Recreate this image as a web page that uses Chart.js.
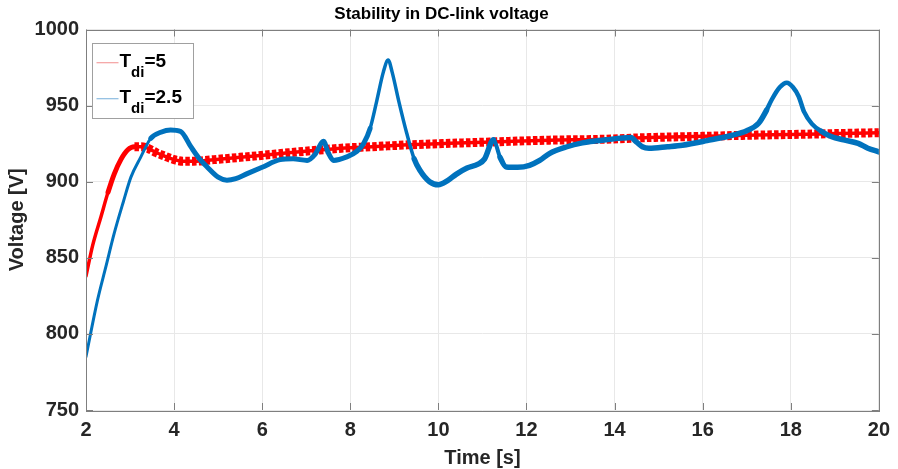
<!DOCTYPE html>
<html>
<head>
<meta charset="utf-8">
<title>Stability in DC-link voltage</title>
<script src="https://cdn.jsdelivr.net/npm/chart.js@4.4.0/dist/chart.umd.min.js"></script>
<style>
  html, body { margin: 0; padding: 0; background: #fff; overflow: hidden; }
  #chart { display: block; }
</style>
</head>
<body>
<canvas id="chart" width="898" height="469"></canvas>
<script>
// Time axis ticks and voltage ticks
const timeTicks = [2, 4, 6, 8, 10, 12, 14, 16, 18, 20];
const voltTicks = [750, 800, 850, 900, 950, 1000];

// T_di = 5 (red)
const tRed = [2.0, 2.15, 2.34, 2.5, 2.64, 2.8, 2.95, 3.1, 3.25, 3.4, 3.6, 3.77, 4.0, 4.2, 4.45,
  4.9, 5.5, 6.03, 6.6, 7.17, 7.8, 8.5, 9.3, 10.26, 11.4, 12.52, 13.65, 14.78, 16.0, 17.0, 18.0, 19.0, 20.0];
const vRed = [838, 858, 877, 893, 905, 915, 921, 923, 923, 922, 919, 917, 914.5, 913.5, 913.5,
  914.5, 916, 917.4, 919, 920.5, 922, 923, 924.2, 925.2, 926.3, 927.3, 927.8, 929, 929.8, 930.5, 931, 931.6, 932.2];

// T_di = 2.5 (blue)
const tBlue = [2.0, 2.26, 2.45, 2.64, 2.85, 3.02, 3.24, 3.47, 3.7, 3.92, 4.15, 4.38, 4.55, 4.75, 5.0,
  5.2, 5.4, 5.66, 6.0, 6.41, 6.7, 7.02, 7.2, 7.39, 7.5, 7.62, 7.92, 8.15, 8.3, 8.45,
  8.6, 8.75, 8.86, 8.95, 9.1, 9.28, 9.45, 9.58, 9.8, 10.0, 10.2, 10.41, 10.65, 10.9, 11.05,
  11.25, 11.4, 11.54, 11.8, 12.07, 12.3, 12.52, 12.9, 13.27, 13.8, 14.37, 14.5, 14.63, 14.78, 15.2,
  15.54, 16.1, 16.67, 17.0, 17.27, 17.45, 17.57, 17.75, 17.91, 18.05, 18.18, 18.3, 18.48, 18.7, 18.93,
  19.2, 19.53, 19.75, 20.0];
const vBlue = [785, 822, 844, 866, 887, 903, 916, 928.5, 932.5, 934, 933, 923, 916, 909.7, 903,
  901, 902, 905.3, 909.5, 914.5, 915, 914, 918, 926.5, 919, 914, 916.3, 920, 925, 935,
  953, 972, 980, 972, 953, 932, 915, 907.5, 900, 898, 900.5, 905, 909, 911.5, 915,
  927.5, 916, 909.7, 909.5, 910.8, 914, 918.5, 922.8, 925.5, 927.5, 929, 926, 923, 922, 923,
  924, 927, 930.5, 933.5, 938.4, 947, 954, 962, 965, 962, 956, 946, 938, 933, 929.5,
  927.5, 925.2, 922, 919.6];

const seriesNames = ['5', '2.5'];

function toPoints(xs, ys) {
  return xs.map((x, i) => ({ x: x, y: ys[i] }));
}

// ripple band width along the blue trace
function blueWidth(ctx) {
  const x = ctx.p0.parsed.x;
  if (x < 3.3) return 3;
  if (x < 8.35) return 5;
  if (x < 9.45) return 3.5;
  if (x < 11.1) return 5.5;
  if (x < 11.35) return 4;
  if (x < 17.3) return 5.5;
  if (x < 18.5) return 4.5;
  return 5.5;
}

function redWidth(ctx) {
  const x = ctx.p0.parsed.x;
  if (x < 2.5) return 3.5;
  if (x < 3.0) return 5;
  return 3.5;
}

function redBandWidth(ctx) {
  const x = ctx.p0.parsed.x;
  if (x < 3.0) return 0;
  return 9;
}

const axisColor = '#7f7f7f';
const textColor = '#262626';

// MATLAB style box with inward ticks on all four sides
const boxPlugin = {
  id: 'box',
  afterDatasetsDraw(chart) {
    const { ctx, chartArea: a, scales } = chart;
    ctx.save();
    ctx.strokeStyle = axisColor;
    ctx.lineWidth = 1;
    ctx.beginPath();
    timeTicks.forEach(t => {
      const px = Math.round(scales.x.getPixelForValue(t)) + 0.5;
      ctx.moveTo(px, a.bottom); ctx.lineTo(px, a.bottom - 7);
      ctx.moveTo(px, a.top); ctx.lineTo(px, a.top + 7);
    });
    voltTicks.forEach(v => {
      const py = Math.round(scales.y.getPixelForValue(v)) + 0.5;
      ctx.moveTo(a.left, py); ctx.lineTo(a.left + 7, py);
      ctx.moveTo(a.right, py); ctx.lineTo(a.right - 7, py);
    });
    ctx.stroke();
    ctx.strokeRect(Math.round(a.left) + 0.5, Math.round(a.top) + 0.5,
      Math.round(a.right - a.left), Math.round(a.bottom - a.top));
    ctx.restore();
  }
};

// legend with subscripts
const legendPlugin = {
  id: 'subLegend',
  afterDraw(chart) {
    const { ctx } = chart;
    const x0 = 92.5, y0 = 43.5, w = 101, h = 75;
    ctx.save();
    ctx.fillStyle = '#fff';
    ctx.fillRect(x0, y0, w, h);
    ctx.strokeStyle = '#a0a0a0';
    ctx.lineWidth = 1;
    ctx.strokeRect(x0, y0, w, h);
    const swatch = ['#f4a0a0', '#8cbbe0'];
    const rows = [66.7, 102.7];
    rows.forEach((base, i) => {
      ctx.strokeStyle = swatch[i];
      ctx.lineWidth = 1.2;
      ctx.beginPath();
      ctx.moveTo(96.5, base - 4);
      ctx.lineTo(118.5, base - 4);
      ctx.stroke();
      ctx.fillStyle = '#000';
      ctx.textBaseline = 'alphabetic';
      ctx.textAlign = 'left';
      ctx.font = 'bold 19px "Liberation Sans", Arial, sans-serif';
      ctx.fillText('T', 119.5, base);
      let x = 119.5 + ctx.measureText('T').width;
      ctx.font = 'bold 15px "Liberation Sans", Arial, sans-serif';
      ctx.fillText('di', x, base + 10.6);
      x += ctx.measureText('di').width;
      ctx.font = 'bold 19px "Liberation Sans", Arial, sans-serif';
      ctx.fillText('=' + seriesNames[i], x, base);
    });
    ctx.restore();
  }
};

const tickFont = { family: '"Liberation Sans", Arial, sans-serif', size: 20, weight: 'bold' };

new Chart(document.getElementById('chart'), {
  type: 'line',
  data: {
    datasets: [
      {
        label: 'T_di=2.5',
        data: toPoints(tBlue, vBlue),
        borderColor: '#0072bd',
        borderWidth: 5,
        borderCapStyle: 'round',
        borderJoinStyle: 'round',
        pointRadius: 0,
        cubicInterpolationMode: 'monotone',
        order: 0,
        segment: { borderWidth: blueWidth }
      },
      {
        label: 'T_di=5',
        data: toPoints(tRed, vRed),
        borderColor: '#ff0000',
        borderWidth: 3.5,
        borderCapStyle: 'round',
        borderJoinStyle: 'round',
        pointRadius: 0,
        cubicInterpolationMode: 'monotone',
        order: 1,
        segment: { borderWidth: redWidth }
      },
      {
        label: 'T_di=5 ripple',
        data: toPoints(tRed, vRed),
        borderColor: '#ff0000',
        borderWidth: 9,
        borderDash: [4.5, 2.2],
        borderCapStyle: 'butt',
        pointRadius: 0,
        cubicInterpolationMode: 'monotone',
        order: 2,
        segment: { borderWidth: redBandWidth }
      }
    ]
  },
  options: {
    responsive: false,
    animation: false,
    layout: { padding: { left: 0, right: 15, top: 0, bottom: 0 } },
    plugins: {
      legend: { display: false },
      tooltip: { enabled: false },
      title: {
        display: true,
        text: 'Stability in DC-link voltage',
        color: '#000',
        font: { family: '"Liberation Sans", Arial, sans-serif', size: 17, weight: 'bold' },
        padding: { top: 4.5, bottom: 4.6 }
      }
    },
    scales: {
      x: {
        type: 'linear',
        min: 2,
        max: 20,
        afterBuildTicks: s => { s.ticks = timeTicks.map(v => ({ value: v })); },
        afterFit: s => { s.height = 59; },
        grid: { color: '#e8e8e8', drawTicks: false },
        border: { display: false },
        ticks: { color: textColor, font: tickFont, padding: 8, maxRotation: 0, callback: v => String(v) },
        title: {
          display: true,
          text: 'Time [s]',
          color: textColor,
          font: tickFont,
          padding: { top: 0, bottom: -1 }
        }
      },
      y: {
        min: 750,
        max: 1000,
        afterBuildTicks: s => { s.ticks = voltTicks.map(v => ({ value: v })); },
        afterFit: s => { s.width = 86; },
        grid: { color: '#e8e8e8', drawTicks: false },
        border: { display: false },
        ticks: { color: textColor, font: tickFont, padding: 7, callback: v => String(v) },
        title: {
          display: true,
          text: 'Voltage [V]',
          color: textColor,
          font: tickFont,
          padding: { top: 5, bottom: 0 }
        }
      }
    }
  },
  plugins: [boxPlugin, legendPlugin]
});
</script>
</body>
</html>
